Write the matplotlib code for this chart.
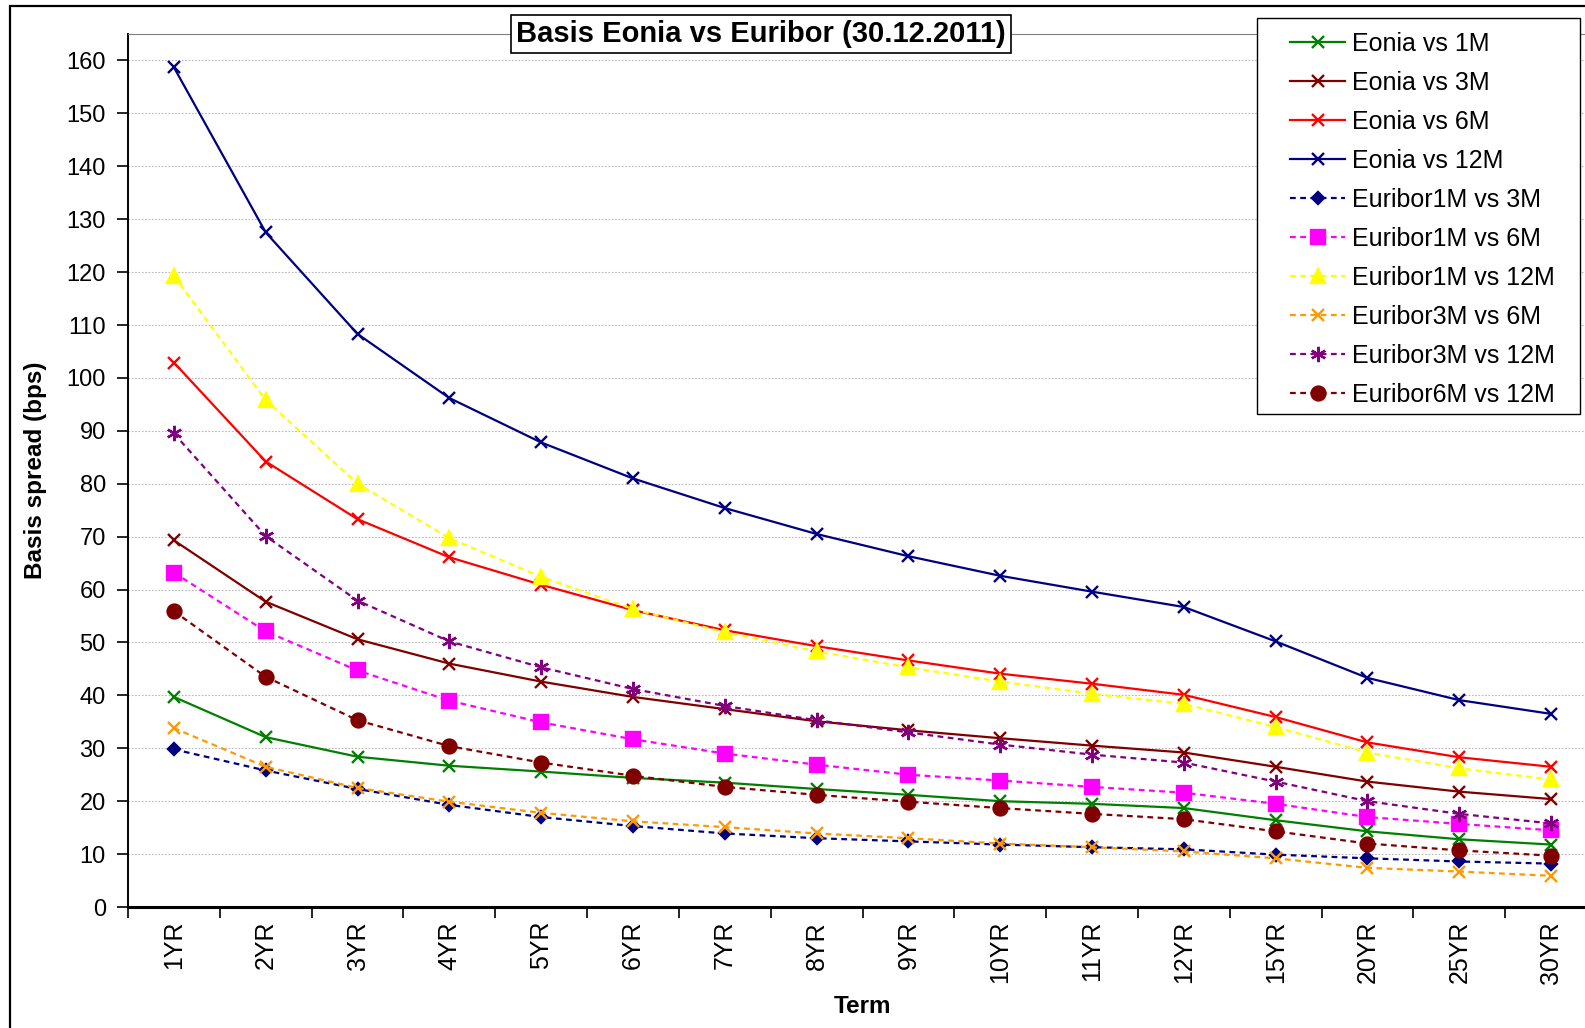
import matplotlib
matplotlib.use("Agg")
import matplotlib.pyplot as plt
from matplotlib.patches import Rectangle

plt.rcParams['font.family'] = ['Liberation Sans', 'DejaVu Sans']

# terms on the x axis
terms = ['1YR', '2YR', '3YR', '4YR', '5YR', '6YR', '7YR', '8YR', '9YR', '10YR',
         '11YR', '12YR', '15YR', '20YR', '25YR', '30YR']

# basis spreads in bps
eonia_1m = [39.7, 32.1, 28.4, 26.7, 25.6, 24.4, 23.5, 22.3, 21.2, 20.0,
            19.5, 18.7, 16.4, 14.3, 12.8, 11.8]
eonia_3m = [69.3, 57.7, 50.6, 46.0, 42.6, 39.7, 37.4, 35.1, 33.4, 31.9,
            30.5, 29.2, 26.5, 23.7, 21.8, 20.4]
eonia_6m = [102.9, 84.2, 73.3, 66.1, 60.9, 56.1, 52.3, 49.3, 46.6, 44.1,
            42.2, 40.1, 35.9, 31.1, 28.3, 26.5]
eonia_12m = [158.7, 127.5, 108.3, 96.2, 87.8, 81.0, 75.4, 70.5, 66.3, 62.6,
             59.6, 56.7, 50.2, 43.3, 39.1, 36.5]
eur1m_3m = [29.8, 25.8, 22.3, 19.3, 17.0, 15.3, 13.9, 13.0, 12.4, 11.8,
            11.3, 10.9, 9.9, 9.2, 8.6, 8.2]
eur1m_6m = [63.2, 52.1, 44.7, 39.0, 34.9, 31.7, 29.0, 26.9, 25.0, 23.9,
            22.7, 21.6, 19.5, 17.0, 15.7, 14.5]
eur1m_12m = [119.3, 95.8, 80.0, 69.7, 62.4, 56.3, 51.9, 48.3, 45.3, 42.6,
             40.3, 38.4, 34.0, 29.2, 26.2, 24.1]
eur3m_6m = [33.8, 26.5, 22.5, 19.9, 17.8, 16.2, 15.1, 13.9, 13.0, 12.0,
            11.3, 10.5, 9.2, 7.4, 6.7, 5.9]
eur3m_12m = [89.5, 70.1, 57.9, 50.2, 45.3, 41.2, 38.0, 35.3, 33.0, 30.7,
             28.8, 27.3, 23.7, 20.0, 17.6, 15.8]
eur6m_12m = [55.9, 43.5, 35.3, 30.4, 27.3, 24.8, 22.7, 21.2, 19.9, 18.7,
             17.6, 16.6, 14.3, 12.0, 10.7, 9.7]

W, H = 1585, 1028
fig = plt.figure(figsize=(W / 100, H / 100), dpi=100)

# outer chart frame (only left and top edges are visible)
fig.patches.append(Rectangle((10 / W, -0.5), 2, 0.5 + 1 - 6 / H, transform=fig.transFigure,
                             fill=False, edgecolor='black', linewidth=1.6))

ax = fig.add_axes([128 / W, (H - 907) / H, (1597 - 128) / W, (907 - 34) / H])

x = list(range(len(terms)))
dash = (0, (2.6, 2.0))

series = [
    (eonia_1m, 'Eonia vs 1M', '#008000', '-', 'x', 9, 'none'),
    (eonia_3m, 'Eonia vs 3M', '#800000', '-', 'x', 9, 'none'),
    (eonia_6m, 'Eonia vs 6M', '#FF0000', '-', 'x', 9, 'none'),
    (eonia_12m, 'Eonia vs 12M', '#000080', '-', 'x', 9, 'none'),
    (eur1m_3m, 'Euribor1M vs 3M', '#000080', dash, 'D', 6.5, None),
    (eur1m_6m, 'Euribor1M vs 6M', '#FF00FF', dash, 's', 10, None),
    (eur1m_12m, 'Euribor1M vs 12M', '#FFFF00', dash, '^', 10, None),
    (eur3m_6m, 'Euribor3M vs 6M', '#FF9900', dash, 'x', 9, 'none'),
    (eur3m_12m, 'Euribor3M vs 12M', '#800080', dash, (6, 2, 0), 11, 'none'),
    (eur6m_12m, 'Euribor6M vs 12M', '#800000', dash, 'o', 10, None),
]

handles = []
for vals, label, color, ls, mk, ms, mfc in series:
    ln, = ax.plot(x, vals, color=color, linestyle=ls, linewidth=1.6, marker=mk, markersize=ms,
                  markeredgewidth=1.7, markerfacecolor=color if mfc is None else mfc,
                  markeredgecolor=color, label=label, clip_on=False)
    handles.append(ln)

ax.set_xlim(-0.5, len(terms) - 0.5)
ax.set_ylim(0, 165)
ax.set_yticks(range(0, 161, 10))
ax.set_xticks([i - 0.5 for i in range(len(terms) + 1)])
ax.set_xticklabels([])
ax.set_xticks(x, minor=True)
ax.set_xticklabels(terms, minor=True, rotation=90)
ax.tick_params(axis='x', which='minor', length=0, pad=10, labelsize=18)
ax.tick_params(axis='x', which='major', direction='out', length=8, width=1.2)
ax.tick_params(axis='y', direction='out', length=8, width=1.2, pad=8, labelsize=17)

for v in range(10, 161, 10):
    ax.axhline(v, color='#b8b8b8', linewidth=0.8, linestyle=(0, (1.5, 1.5)), zorder=0)

ax.spines['left'].set_linewidth(1.4)
ax.spines['bottom'].set_linewidth(2.2)
ax.spines['top'].set_color('#808080')
ax.spines['right'].set_color('#808080')

ax.set_ylabel('Basis spread (bps)', fontsize=17.5, fontweight='bold', labelpad=14)
ax.set_xlabel('Term', fontsize=17.5, fontweight='bold', labelpad=8)

fig.text(761 / W, 1 - 34 / H, 'Basis Eonia vs Euribor (30.12.2011)', fontsize=21,
         fontweight='bold', ha='center', va='center',
         bbox=dict(boxstyle='square,pad=0.18', facecolor='white', edgecolor='black', linewidth=1.2))

# legend box drawn separately so its padding matches the reference
box = Rectangle((1257 / W, 1 - 414 / H), (1580 - 1257) / W, (414 - 18) / H,
                transform=fig.transFigure, facecolor='white',
                edgecolor='black', linewidth=1.0, zorder=5)
fig.patches.append(box)
leg = fig.legend(handles=handles, loc='upper left', bbox_to_anchor=(1290 / W, 1 - 32 / H),
                 fontsize=18, frameon=False, handlelength=2.2, handletextpad=0.3,
                 labelspacing=0.6, borderpad=0, borderaxespad=0)
leg.set_zorder(6)

fig.savefig('out.png', dpi=100)
